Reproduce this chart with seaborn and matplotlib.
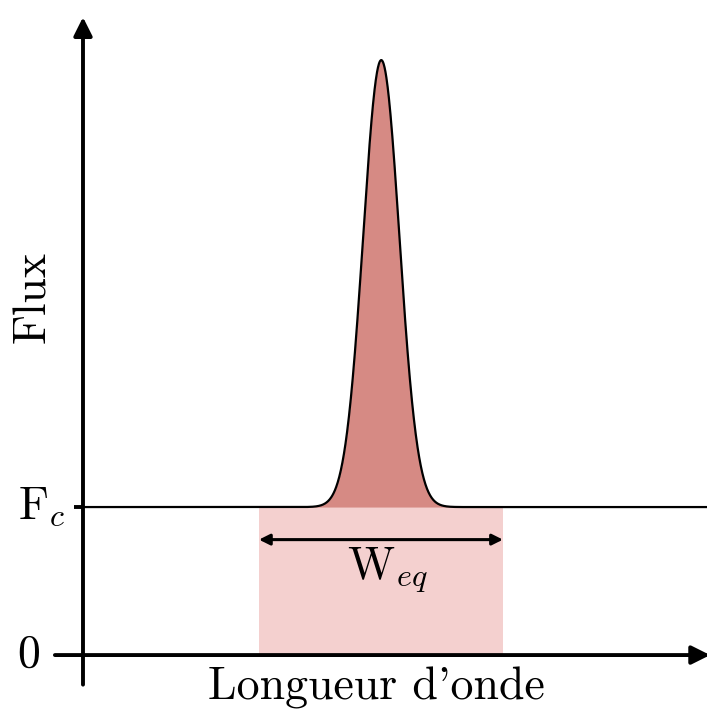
import numpy as np
import matplotlib
matplotlib.use("Agg")
import matplotlib.pyplot as plt
import seaborn as sns
from matplotlib.patches import FancyArrowPatch

# Line parameters (x in arbitrary wavelength units, y in flux)
continuum = 1.0          # F_c
line_center = 4.78
line_amplitude = 3.02
line_sigma = 0.29
weq_left = 2.82
weq_right = 6.73
x_start = 0.0
x_end = 10.0

wl = np.linspace(x_start, x_end, 2000)
flux = continuum + line_amplitude * np.exp(-0.5 * ((wl - line_center) / line_sigma) ** 2)

sns.set_style("white")
plt.rcParams['font.family'] = ['cmr10', 'DejaVu Serif']
plt.rcParams['mathtext.fontset'] = 'cm'
plt.rcParams['axes.unicode_minus'] = False
plt.rcParams['text.color'] = 'black'

fig = plt.figure(figsize=(7.07, 7.15), dpi=100)
ax = fig.add_axes([0, 0, 1, 1])
ax.set_xlim(-1.33, 10.0)
ax.set_ylim(-0.405, 4.426)
ax.axis('off')

# equivalent width rectangle
ax.fill_between([weq_left, weq_right], 0, continuum, color='#f4d0cf', lw=0, zorder=1)
# emission line
ax.fill_between(wl, continuum, flux, color='#d68a84', lw=0, zorder=2)
sns.lineplot(x=wl, y=flux, color='black', lw=1.6, ax=ax, zorder=3)

# axes with arrows
ax.add_patch(FancyArrowPatch((0, -0.2), (0, 4.31), arrowstyle='-|>', mutation_scale=28,
                             lw=2.8, color='black', shrinkA=0, shrinkB=0, zorder=4))
ax.add_patch(FancyArrowPatch((-0.45, 0), (10.05, 0), arrowstyle='-|>', mutation_scale=28,
                             lw=2.8, color='black', shrinkA=0, shrinkB=0, zorder=4))
# F_c tick
ax.plot([-0.14, 0], [continuum, continuum], color='black', lw=2.8, zorder=4, solid_capstyle='butt')

# W_eq double arrow
ax.add_patch(FancyArrowPatch((weq_left, 0.78), (weq_right, 0.78), arrowstyle='<|-|>',
                             mutation_scale=16, lw=2.2, color='black', shrinkA=0, shrinkB=0, zorder=4))

fs = 33
ax.text((weq_left + weq_right) / 2 + 0.1, 0.57, r'$\mathrm{W}_{eq}$', fontsize=fs,
        ha='center', va='center', color='black')
ax.text(-0.27, continuum, r'$\mathrm{F}_c$', fontsize=fs, ha='right', va='center', color='black')
ax.text(-0.69, 0, '0', fontsize=fs, ha='right', va='center', color='black')
ax.text(-0.79, 2.42, 'Flux', fontsize=fs, ha='center', va='center', rotation=90, color='black')
ax.text(4.7, -0.225, "Longueur d'onde", fontsize=fs, ha='center', va='center', color='black')

fig.savefig('out.png', dpi=100)
